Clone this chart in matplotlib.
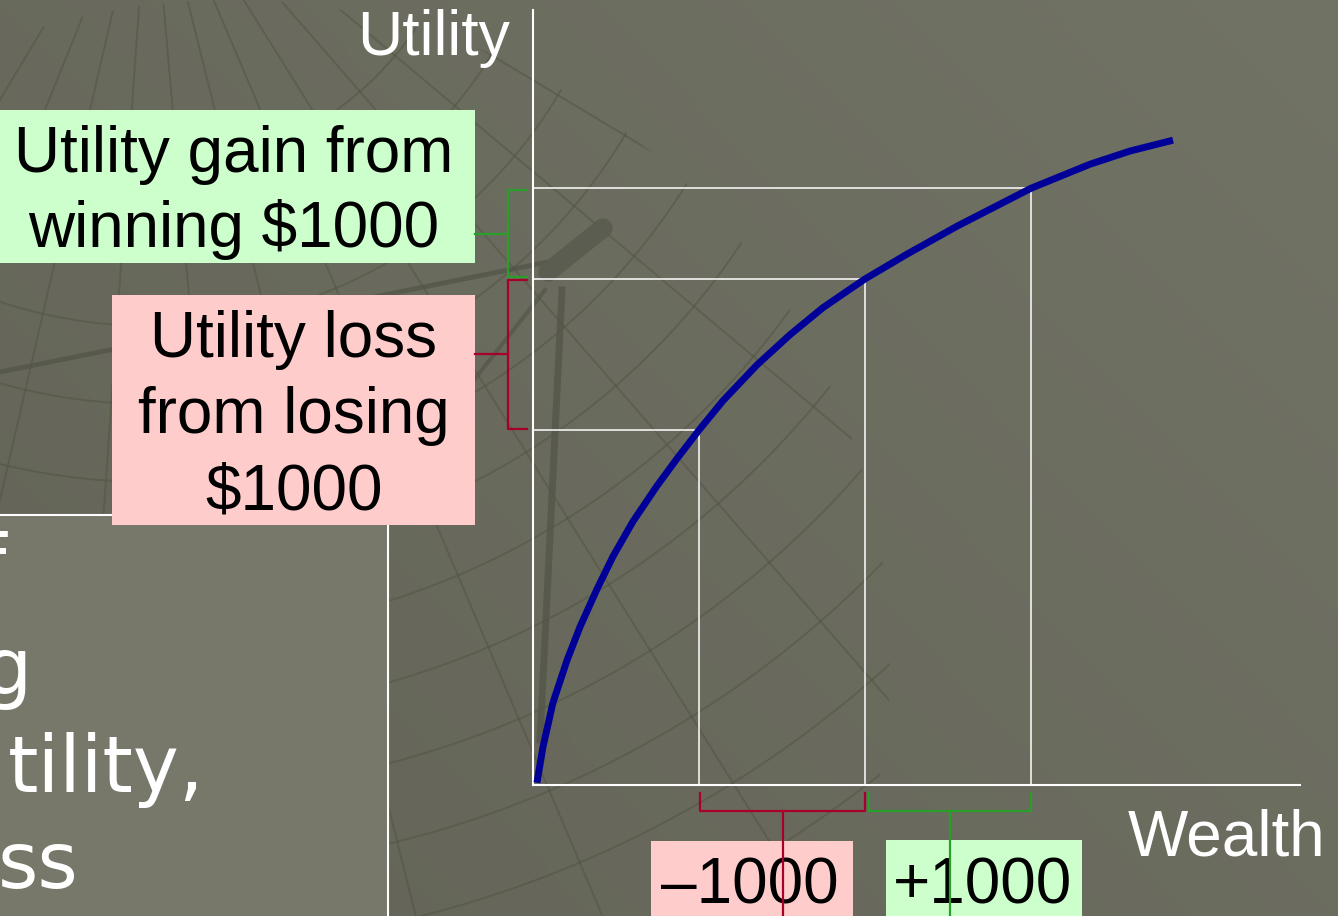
import numpy as np
import matplotlib
matplotlib.use("Agg")
import matplotlib.pyplot as plt
from matplotlib.patches import Rectangle, Circle

# ---------------- data ----------------
wealth = [24, 60, 120, 205, 283, 386, 482, 602, 747, 867, 1000, 1145, 1349,
          1548, 1747, 2000, 2253, 2554, 3000, 3355, 3596, 3855]
utility = [0.3, 4.9, 10.6, 16.1, 20.4, 25.3, 29.5, 34.0, 38.6, 42.1, 45.8,
           49.6, 54.2, 58.1, 61.6, 65.3, 68.5, 72.1, 77.0, 80.1, 81.8, 83.2]
level_wealth = [1000, 2000, 3000]
level_utility = [45.8, 65.3, 77.0]
x_label = "Wealth"
y_label = "Utility"
gain_lines = ["Utility gain from", "winning $1000"]
loss_lines = ["Utility loss", "from losing", "$1000"]
minus_label = "\u20131000"
plus_label = "+1000"
panel_fragments = ["f", "g", "tility,", "ss"]

# ---------------- figure ----------------
W, H = 1338, 916
fig = plt.figure(figsize=(W / 100, H / 100), dpi=100)

bg = fig.add_axes([0, 0, 1, 1])
bg.set_xlim(0, W)
bg.set_ylim(H, 0)
bg.axis("off")

# background gradient
yy, xx = np.mgrid[0:H:4, 0:W:4]
t = 0.6 * (xx / W) + 0.4 * (1 - yy / H)
base = np.array([99, 100, 87]) / 255.0
top = np.array([113, 115, 101]) / 255.0
img = base[None, None, :] + (top - base)[None, None, :] * t[..., None]
bg.imshow(img, extent=(0, W, H, 0), aspect="auto", zorder=0)

# faint globe grid texture
globe = Circle((230, 660), 660, transform=bg.transData, facecolor="none",
               edgecolor="none")
bg.add_patch(globe)
cx, cy = 150, -150
grid_col = "#4e503f"
ang = np.linspace(0, np.pi, 400)
for r in np.arange(320, 1250, 78):
    ln, = bg.plot(cx + r * np.cos(ang), cy + r * np.sin(ang), color=grid_col,
                  lw=1.4, alpha=0.45, zorder=1)
    ln.set_clip_path(globe)
for a in np.deg2rad(np.arange(22, 170, 9)):
    ln, = bg.plot([cx, cx + 1400 * np.cos(a)], [cy, cy + 1400 * np.sin(a)],
                  color=grid_col, lw=1.4, alpha=0.45, zorder=1)
    ln.set_clip_path(globe)

# faint telescope / tripod silhouette
tri_col = "#54564a"
bg.plot([0, 548], [372, 262], color=tri_col, lw=3.5, alpha=0.8, zorder=1,
        solid_capstyle="butt")
bg.plot([562, 540], [290, 740], color=tri_col, lw=5, alpha=0.8, zorder=1)
bg.plot([545, 300], [290, 600], color=tri_col, lw=3, alpha=0.7, zorder=1)
bg.plot([548, 603], [272, 228], color="#5b5c50", lw=14, alpha=0.9, zorder=1,
        solid_capstyle="round")

# left text panel (partially visible)
bg.add_patch(Rectangle((-10, 515), 398, 420, facecolor="#77786a",
                       edgecolor="white", lw=1.5, zorder=2))
panel_x = [-22, -17, 8, -2]
panel_y = [590, 694, 792, 888]
for s, px, py in zip(panel_fragments, panel_x, panel_y):
    bg.text(px, py, s, color="white", fontsize=56, family="DejaVu Sans",
            ha="left", va="baseline", zorder=3)

# label boxes
green_fc = "#ccffcc"
pink_fc = "#ffcccc"
bg.add_patch(Rectangle((-5, 110), 480, 153, facecolor=green_fc,
                       edgecolor="none", zorder=3))
bg.add_patch(Rectangle((112, 295), 363, 230, facecolor=pink_fc,
                       edgecolor="none", zorder=3))
bg.add_patch(Rectangle((651, 841), 202, 90, facecolor=pink_fc,
                       edgecolor="none", zorder=3))
bg.add_patch(Rectangle((886, 840), 196, 90, facecolor=green_fc,
                       edgecolor="none", zorder=3))

tk = dict(color="black", fontsize=46, family="Liberation Sans",
          ha="center", va="baseline", zorder=4)
for s, py in zip(gain_lines, [172, 247]):
    bg.text(234, py, s, **tk)
for s, py in zip(loss_lines, [357, 433, 509]):
    bg.text(294, py, s, **tk)
bg.text(750, 903, minus_label, **tk)
bg.text(983, 903, plus_label, **tk)

bg.text(357, 55, y_label, color="white", fontsize=45, family="Liberation Sans",
        ha="left", va="baseline", zorder=4)
bg.text(1128, 855, x_label, color="white", fontsize=46,
        family="Liberation Sans", ha="left", va="baseline", zorder=4)

# ---------------- chart axes ----------------
x0, y0, x1, y1 = 533, 785, 1300, 10
ax = fig.add_axes([x0 / W, (H - y0) / H, (x1 - x0) / W, (y0 - y1) / H])
ax.patch.set_alpha(0)
xmax = 4620.0
ymax = 100.0
ax.set_xlim(0, xmax)
ax.set_ylim(0, ymax)
px2dx = xmax / (x1 - x0)
px2dy = ymax / (y0 - y1)
for side in ["top", "right"]:
    ax.spines[side].set_visible(False)
for side in ["left", "bottom"]:
    ax.spines[side].set_color("white")
    ax.spines[side].set_linewidth(1.5)
ax.set_xticks([])
ax.set_yticks([])

# guide rectangles
for w, u in zip(level_wealth, level_utility):
    ax.plot([0, w, w], [u, u, 0], color="white", lw=1.1, zorder=2,
            clip_on=False)

# utility curve
ax.plot(wealth, utility, color="#000099", lw=5, solid_capstyle="butt",
        solid_joinstyle="round", zorder=3, clip_on=False)

green_c = "#2a9e2a"
red_c = "#a8002a"
blw = 1.6

def ybracket(u0, u1, color):
    xo = -25 * px2dx
    xi = -6 * px2dx
    g = 1.5 * px2dy
    ax.plot([xi, xo, xo, xi], [u0 + g, u0 + g, u1 - g, u1 - g], color=color,
            lw=blw, clip_on=False, zorder=5)
    m = (u0 + u1) / 2
    ax.plot([xo, -58 * px2dx], [m, m], color=color, lw=blw, clip_on=False,
            zorder=5)

def xbracket(w0, w1, color, gap_left):
    yi = -8 * px2dy
    yo = -26 * px2dy
    a = w0 + gap_left * px2dx
    b = w1
    ax.plot([a, a, b, b], [yi, yo, yo, yi], color=color, lw=blw,
            clip_on=False, zorder=5)
    m = (a + b) / 2
    ax.plot([m, m], [yo, -(H - y0 + 5) * px2dy], color=color, lw=blw,
            clip_on=False, zorder=5)

ybracket(level_utility[1], level_utility[2], green_c)
ybracket(level_utility[0], level_utility[1], red_c)
xbracket(level_wealth[0], level_wealth[1], red_c, 1.0)
xbracket(level_wealth[1], level_wealth[2], green_c, 3.5)

fig.savefig("out.png", dpi=100)
